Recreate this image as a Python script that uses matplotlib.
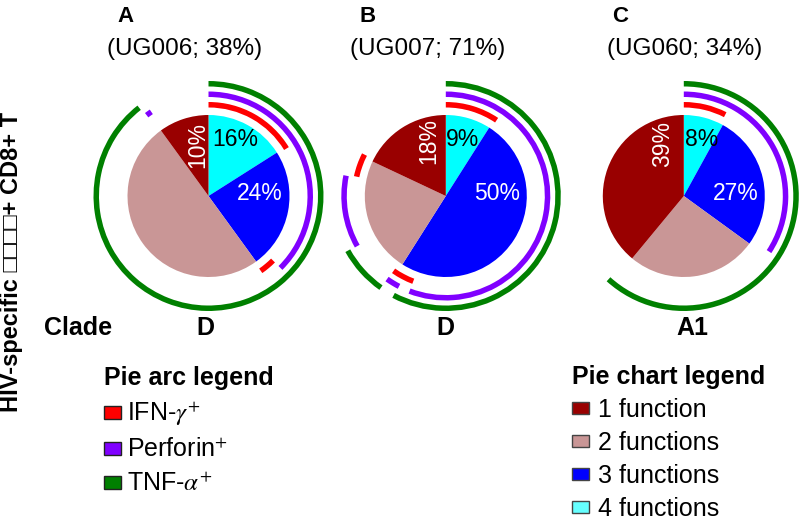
import matplotlib.pyplot as plt
from matplotlib.patches import Wedge, Patch

# panels, left to right
panels = ["A", "B", "C"]
patients = ["UG006", "UG007", "UG060"]
responders = [38, 71, 34]
clades = ["D", "D", "A1"]

# pie slices in %, clockwise from 12 o'clock: 4, 3, 2, 1 functions
four_fn = [16, 9, 8]
three_fn = [24, 50, 27]
two_fn = [50, 23, 26]
one_fn = [10, 18, 39]

# arcs round each pie, (start %, end %) clockwise from 12 o'clock
ifn_arcs = [[(0, 16.3), (37.5, 40.3)],
            [(0, 9.4), (55.8, 59.7), (78.4, 82.5)],
            [(0, 7.5)]]
perf_arcs = [[(0, 37.5), (89.6, 90.5)],
             [(0, 55.8), (57.6, 59.8), (66.8, 78.2)],
             [(0, 34.2)]]
tnf_arcs = [[(0, 89.4)],
            [(0, 57.7), (59.8, 66.9)],
            [(0, 61.7)]]

pie_labels = ["1 function", "2 functions", "3 functions", "4 functions"]
arc_labels = ["IFN-$\\gamma^{+}$", "Perforin$^{+}$", "TNF-$\\alpha^{+}$"]

c_one, c_two, c_three, c_four = "#990000", "#c99696", "#0000ff", "#00ffff"
arc_colors = ["#ff0000", "#8000ff", "#008000"]

plt.rcParams["font.family"] = ["Liberation Sans", "DejaVu Sans"]
plt.rcParams["mathtext.fontset"] = "stix"

H = 523
centers_x = [208.5, 445.8, 683.8]
cy = H - 196
radius = 81
arc_radii = [94, 104.5, 115]
arc_w = 5.5

# label offsets from the pie centre (layout only)
off_four = [(27, 57), (17, 57), (17.5, 57)]
off_three = [(51.5, 2.5), (51, 2.5), (52, 2.5)]
off_one = [(-11, 51), (-17, 54.5), (-21, 52)]

fig = plt.figure(figsize=(8, 5.23), dpi=100)
ax = fig.add_axes([0, 0, 1, 1])

for i in range(3):
	cx = centers_x[i]
	vals = [four_fn[i], three_fn[i], two_fn[i], one_fn[i]]
	ax.pie(vals, colors=[c_four, c_three, c_two, c_one], startangle=90,
	       counterclock=False, center=(cx, cy), radius=radius,
	       wedgeprops=dict(linewidth=0))
	for arcs, color, r_out in zip([ifn_arcs, perf_arcs, tnf_arcs], arc_colors, arc_radii):
		for p0, p1 in arcs[i]:
			ax.add_patch(Wedge((cx, cy), r_out, 90 - 3.6 * p1, 90 - 3.6 * p0,
			                   width=arc_w, facecolor=color, edgecolor="none"))

	ax.text(cx + off_four[i][0], cy + off_four[i][1], f"{four_fn[i]}%",
	        fontsize=16.5, color="black", ha="center", va="center")
	ax.text(cx + off_three[i][0], cy + off_three[i][1], f"{three_fn[i]}%",
	        fontsize=16.5, color="white", ha="center", va="center")
	ax.text(cx + off_one[i][0], cy + off_one[i][1], f"{one_fn[i]}%",
	        fontsize=16.5, color="white", ha="center", va="center", rotation=90)

letter_x = [126, 367.5, 620]
sub_x = [185, 428, 684.5]
clade_x = [205, 445, 692]
for i in range(3):
	ax.text(letter_x[i], H - 17, panels[i], fontsize=16, fontweight="bold",
	        ha="center", va="center")
	ax.text(sub_x[i], H - 49, f"(UG{patients[i][2:]}; {responders[i]}%)",
	        fontsize=17.5, ha="center", va="center")
	ax.text(clade_x[i], H - 328, clades[i], fontsize=18, fontweight="bold",
	        ha="center", va="center")

ax.text(78, H - 328, "Clade", fontsize=18, fontweight="bold", ha="center", va="center")
ax.text(12, H - 262, "HIV-specific \u25a1\u25a1\u25a1\u25a1+ CD8+ T", fontsize=17,
        fontweight="bold", rotation=90, ha="center", va="center")

arc_handles = [Patch(facecolor=c, edgecolor="#222222", linewidth=1, label=l)
               for c, l in zip(arc_colors, arc_labels)]
leg1 = ax.legend(handles=arc_handles, loc="upper left", bbox_to_anchor=(104, H - 366),
                 bbox_transform=ax.transData, frameon=False, borderpad=0,
                 borderaxespad=0, fontsize=18, title="Pie arc legend",
                 title_fontproperties={"weight": "bold", "size": 18}, alignment="left",
                 handlelength=0.68, handleheight=0.4, handletextpad=0.24,
                 labelspacing=0.4)
ax.add_artist(leg1)

pie_handles = [Patch(facecolor=c, edgecolor="#444444", linewidth=1, label=l)
               for c, l in zip([c_one, c_two, c_three, "#66ffff"], pie_labels)]
ax.legend(handles=pie_handles, loc="upper left", bbox_to_anchor=(572, H - 365),
          bbox_transform=ax.transData, frameon=False, borderpad=0,
          borderaxespad=0, fontsize=18, title="Pie chart legend",
          title_fontproperties={"weight": "bold", "size": 18}, alignment="left",
          handlelength=0.68, handleheight=0.4, handletextpad=0.36,
          labelspacing=0.36)

ax.set_xlim(0, 800)
ax.set_ylim(0, H)
ax.set_aspect("auto")
ax.axis("off")

fig.savefig("out.png", dpi=100)
